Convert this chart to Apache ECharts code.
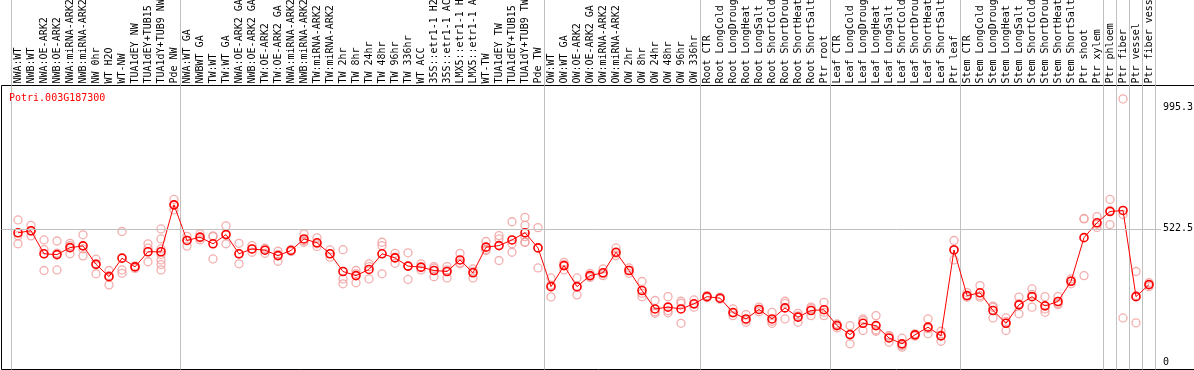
<!DOCTYPE html>
<html>
<head>
<meta charset="utf-8">
<script src="https://cdn.jsdelivr.net/npm/echarts@6/dist/echarts.min.js"></script>
<style>
html,body{margin:0;padding:0;background:#fff;}
#chart{width:1194px;height:370px;}
</style>
</head>
<body>
<div id="chart"></div>
<script>
const chartTitle = 'Potri.003G187300';
const categories = [
  'NWA:WT','NWB:WT','NWA:OE-ARK2','NWB:OE-ARK2','NWA:miRNA-ARK2','NWB:miRNA-ARK2','NW 0hr','WT H2O','WT-NW','TUA1dEY NW','TUA1dEY+TUB15 NW','TUA1dY+TUB9 NW','Pde NW',
  'NWA:WT GA','NWBWT GA','TW:WT','TW:WT GA','NWA:OE-ARK2 GA','NWB:OE-ARK2 GA','TW:OE-ARK2','TW:OE-ARK2 GA','NWA:miRNA-ARK2 GA','NWB:miRNA-ARK2 GA','TW:miRNA-ARK2','TW:miRNA-ARK2 GA',
  'TW 2hr','TW 8hr','TW 24hr','TW 48hr','TW 96hr','TW 336hr','WT ACC','35S::etr1-1 H2O','35S::etr1-1 ACC','LMX5::etr1-1 H2O','LMX5::etr1-1 ACC','WT-TW','TUA1dEY TW','TUA1dEY+TUB15 TW','TUA1dY+TUB9 TW','Pde TW',
  'OW:WT','OW:WT GA','OW:OE-ARK2','OW:OE-ARK2 GA','OW:miRNA-ARK2','OW:miRNA-ARK2 GA','OW 2hr','OW 8hr','OW 24hr','OW 48hr','OW 96hr','OW 336hr',
  'Root CTR','Root LongCold','Root LongDrought','Root LongHeat','Root LongSalt','Root ShortCold','Root ShortDrought','Root ShortHeat','Root ShortSalt','Ptr root',
  'Leaf CTR','Leaf LongCold','Leaf LongDrought','Leaf LongHeat','Leaf LongSalt','Leaf ShortCold','Leaf ShortDrought','Leaf ShortHeat','Leaf ShortSalt','Ptr leaf',
  'Stem CTR','Stem LongCold','Stem LongDrought','Stem LongHeat','Stem LongSalt','Stem ShortCold','Stem ShortDrought','Stem ShortHeat','Stem ShortSalt','Ptr shoot','Ptr xylem',
  'Ptr phloem','Ptr fiber','Ptr vessel','Ptr fiber vessel'
];
const means = [
  507,515,425,422,449,456,384,336,408,374,433,433,616,
  477,490,464,500,425,444,439,418,438,483,468,425,356,340,364,425,409,377,373,360,356,401,351,451,457,479,507,448,
  297,379,297,340,351,431,360,282,210,217,210,230,
  258,252,196,171,208,171,214,178,204,207,
  145,110,154,145,97,74,109,139,105,440,
  262,273,204,154,226,258,222,239,318,488,546,
  590,594,258,305
];
const replicates = [
  [557,496,464],[536,514,495],[479,441,360],[475,428,362],[466,457,425],[499,444,417],[404,386,347],[360,340,304],[512,362,349],[378,375,368],[464,447,394],[522,483,444,422,401,383,362],[637,616,596],
  [493,477,455],[503,487,479],[495,492,405],[534,502,464],[466,425,386],[457,444,431],[447,443,427],[435,423,396],[442,438,434],[503,476,470],[487,464,454],[440,425,412],[441,327,308],[360,348,312],[386,375,327],[470,457,347],[427,412,388],[429,377,325],[386,371,362],[375,369,336],[375,362,331],[427,390,386],[366,356,331],[473,442,438],[496,483,399],[550,464,431],[567,536,492,470,470],[527,448,370],
  [331,303,257],[392,383,362],[331,295,265],[349,338,333],[366,347,340],[448,427,418],[370,361,349],[317,271,258],[243,199,193],[258,203,195],[240,232,154],[245,228,217],
  [262,258,254],[256,252,248],[210,194,184],[188,167,158],[217,208,199],[197,162,154],[240,232,171],[193,183,158],[217,211,184],[236,197,184],
  [152,147,136],[145,111,74],[171,165,126],[184,128,123],[106,105,80],[96,67,61],[113,109,104],[171,133,113],[123,108,84],[477,442,401],
  [274,262,256],[301,262,256],[221,216,175],[175,161,126],[256,231,191],[288,267,217],[258,210,197],[258,232,227],[327,319,308],[561,563,340],[570,540,528],
  [637,594,539],[1029,578,175],[356,262,156],[313,305,297]
];
const yTickValues = [0, 522.5, 995.3];
const refLineValue = 522.5;
const groupStarts = [0, 13, 41, 53, 63, 73, 84, 85, 86, 87];

const repData = [];
replicates.forEach((arr, i) => arr.forEach(v => repData.push([i, v])));

const Y_MIN = -26.1, Y_MAX = 1081.3;
const MONO = 'DejaVu Sans Mono';
const sepFn = (idx) => groupStarts.indexOf(idx) >= 0;

const chart = echarts.init(document.getElementById('chart'), null, {renderer: 'canvas'});
chart.setOption({
  animation: false,
  backgroundColor: '#fff',
  title: {
    text: chartTitle, left: 9, top: 93, padding: 0,
    textStyle: {color: '#ff0000', fontFamily: MONO, fontSize: 10, fontWeight: 'normal'}
  },
  grid: [
    {left: 11.5, right: 38.5, top: 85.5, bottom: 0.5, containLabel: false, outerBoundsMode: 'none'},
    {left: 11.5, right: 38.5, top: 0, height: 85.5, containLabel: false, outerBoundsMode: 'none'},
    {left: 1.5, right: -2, top: 85.5, bottom: 0.5, show: true, borderColor: '#000', borderWidth: 1, backgroundColor: 'transparent', containLabel: false, outerBoundsMode: 'none'}
  ],
  xAxis: [
    {
      type: 'category', gridIndex: 0, data: categories, position: 'top', boundaryGap: true,
      axisLine: {show: false}, axisTick: {show: false},
      axisLabel: {show: true, rotate: 90, interval: 0, margin: 2, fontFamily: MONO, fontSize: 10, color: '#000', hideOverlap: false},
      splitLine: {show: true, interval: sepFn, lineStyle: {color: '#c0c0c0', width: 1}}
    },
    {
      type: 'category', gridIndex: 1, data: categories, boundaryGap: true,
      axisLine: {show: false}, axisTick: {show: false}, axisLabel: {show: false},
      splitLine: {show: true, interval: sepFn, lineStyle: {color: '#c0c0c0', width: 1}}
    },
    {type: 'value', gridIndex: 2, min: 0, max: 1, show: false}
  ],
  yAxis: [
    {
      type: 'value', gridIndex: 0, position: 'right', min: Y_MIN, max: Y_MAX, z: 10,
      axisLine: {show: false}, axisTick: {show: false, customValues: yTickValues},
      splitLine: {show: false},
      axisLabel: {
        show: true, customValues: yTickValues, margin: 5.5, fontFamily: MONO, fontSize: 10, color: '#000',
        backgroundColor: '#fff', padding: [1, 2, 1, 2],
        formatter: (v) => String(v)
      }
    },
    {type: 'value', gridIndex: 1, show: false},
    {type: 'value', gridIndex: 2, min: Y_MIN, max: Y_MAX, show: false}
  ],
  series: [
    {
      type: 'line', xAxisIndex: 2, yAxisIndex: 2, data: [], z: 1, silent: true,
      markLine: {
        silent: true, symbol: 'none', label: {show: false},
        lineStyle: {color: '#c0c0c0', type: 'solid', width: 1},
        data: [{yAxis: refLineValue}]
      }
    },
    {
      type: 'scatter', xAxisIndex: 0, yAxisIndex: 0, data: repData, z: 3,
      symbol: 'circle', symbolSize: 8,
      itemStyle: {color: 'transparent', borderColor: '#f09a9a', borderWidth: 1.3}
    },
    {
      type: 'line', xAxisIndex: 0, yAxisIndex: 0, data: means, z: 4,
      symbol: 'circle', symbolSize: 8, showAllSymbol: true,
      lineStyle: {color: '#ff0000', width: 1},
      itemStyle: {color: 'transparent', borderColor: '#ff0000', borderWidth: 1.6}
    }
  ]
});
</script>
</body>
</html>
